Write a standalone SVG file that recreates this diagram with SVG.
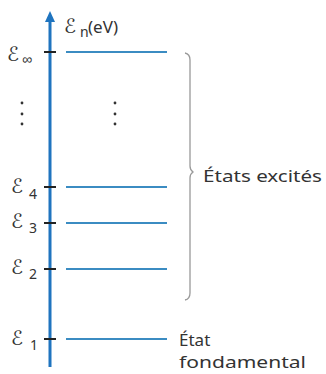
<svg xmlns="http://www.w3.org/2000/svg" width="326" height="374" viewBox="0 0 326 374">
<style>
.lbl{font-family:"Noto Sans","Liberation Sans",sans-serif;font-size:17px;fill:#333}
.E{font-family:"DejaVu Serif","DejaVu Sans",serif;font-size:20px;fill:#333}
.sub{font-family:"Noto Sans","Liberation Sans",sans-serif;font-size:14px;fill:#333}
.level{stroke:#3b8cc2;stroke-width:2}
.tick{stroke:#222;stroke-width:2}
.dot{fill:#333}
</style>
<rect width="326" height="374" fill="#fff"/>
<g id="axis">
<line x1="50" y1="20" x2="50" y2="367" stroke="#1f74bf" stroke-width="3"/>
<polygon points="50,11 55,22 45,22" fill="#1f74bf"/>
<text class="E" x="64" y="33">ℰ</text><text class="sub" x="80" y="37">n</text><text class="lbl" x="88" y="33">(eV)</text>
</g>
<g id="ticks">
<line class="tick" x1="44" y1="52" x2="56" y2="52"/>
<line class="tick" x1="44" y1="187" x2="56" y2="187"/>
<line class="tick" x1="44" y1="223" x2="56" y2="223"/>
<line class="tick" x1="44" y1="269" x2="56" y2="269"/>
<line class="tick" x1="44" y1="339" x2="56" y2="339"/>
</g>
<g id="level-inf"><line class="level" x1="66" y1="52" x2="167" y2="52"/><text class="E" x="7" y="61">ℰ</text><text class="sub" x="22" y="64" font-size="12">∞</text></g>
<g id="level-4"><line class="level" x1="66" y1="187" x2="167" y2="187"/><text class="E" x="11" y="193">ℰ</text><text class="sub" x="29" y="199">4</text></g>
<g id="level-3"><line class="level" x1="66" y1="223" x2="167" y2="223"/><text class="E" x="11" y="228">ℰ</text><text class="sub" x="29" y="233">3</text></g>
<g id="level-2"><line class="level" x1="66" y1="269" x2="167" y2="269"/><text class="E" x="11" y="274">ℰ</text><text class="sub" x="29" y="279">2</text></g>
<g id="level-1"><line class="level" x1="66" y1="339" x2="167" y2="339"/><text class="E" x="11" y="345">ℰ</text><text class="sub" x="30" y="350">1</text>
<text class="lbl" x="179" y="346">État</text><text class="lbl" x="179" y="368" textLength="127" lengthAdjust="spacingAndGlyphs">fondamental</text></g>
<g id="dots">
<circle class="dot" cx="22" cy="103" r="1.4"/><circle class="dot" cx="22" cy="114" r="1.4"/><circle class="dot" cx="22" cy="124" r="1.4"/>
<circle class="dot" cx="115" cy="103" r="1.4"/><circle class="dot" cx="115" cy="114" r="1.4"/><circle class="dot" cx="115" cy="124" r="1.4"/>
</g>
<g id="excited">
<path d="M185,53 Q190,54 190,60 L190,166 Q190,170 193,172 Q190,174 190,178 L190,293 Q190,299 185,300" fill="none" stroke="#999" stroke-width="1.3"/>
<text class="lbl" x="203" y="182" textLength="119" lengthAdjust="spacingAndGlyphs">États excités</text>
</g>
</svg>
